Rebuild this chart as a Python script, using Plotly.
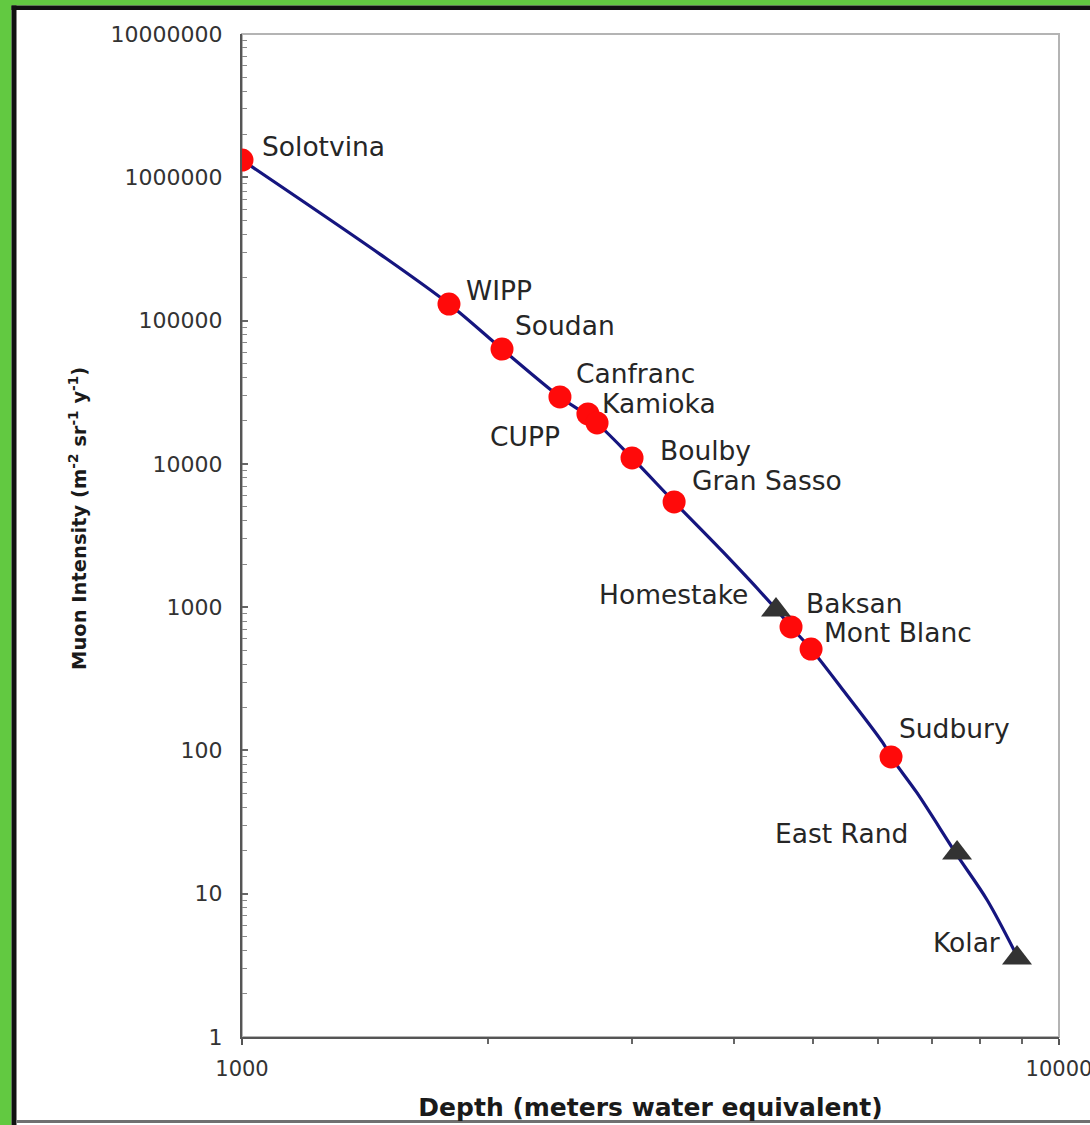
import numpy as np
import plotly.graph_objects as go

# ---- data -------------------------------------------------------------
# Underground laboratories: depth (m w.e.) and muon intensity (m^-2 sr^-1 y^-1)
lab_sites = ["Solotvina", "WIPP", "Soudan", "Canfranc", "Kamioka", "CUPP", "Boulby",
             "Gran Sasso", "Baksan", "Mont Blanc", "Sudbury"]
lab_depth = [1000, 1792, 2081, 2450, 2651, 2720, 3002, 3380, 4699, 4972, 6229]
lab_intensity = [1.32e6, 1.305e5, 6.33e4, 2.93e4, 2.23e4, 1.93e4, 1.10e4, 5420, 727, 510, 90]

# Deep mines
mine_sites = ["Homestake", "East Rand", "Kolar"]
mine_depth = [4504, 7503, 8884]
mine_intensity = [955, 19.2, 3.56]

# Depth-intensity relation
curve_depth = [1000, 1475, 1792, 2081, 2450, 2682, 3002, 3380, 3879, 4492, 4699,
               4972, 5440, 6088, 6229, 6703, 7503, 8166, 8833]
curve_intensity = [1.32e6, 2.91e5, 1.305e5, 6.33e4, 2.93e4, 2.06e4, 1.10e4, 5420,
                   2427, 986, 727, 510, 264, 112.7, 90, 50.5, 18.6, 9.04, 3.92]

y_tick_values = [1, 10, 100, 1000, 10000, 100000, 1000000, 10000000]
y_tick_text = ["1", "10", "100", "1000", "10000", "100000", "1000000", "10000000"]
x_tick_values = [1000, 10000]
x_tick_text = ["1000", "10000"]

# ---- label placement (pixel offsets from each marker) ---------------------
label_style = {
    "Solotvina": ("left", 18, 14),
    "WIPP": ("left", 15, 14),
    "Soudan": ("left", 11, 24),
    "Canfranc": ("left", 14, 23),
    "Kamioka": ("left", 12, 10),
    "CUPP": ("right", -35, -14),
    "Boulby": ("left", 26, 7),
    "Gran Sasso": ("left", 16, 21),
    "Baksan": ("left", 13, 23),
    "Mont Blanc": ("left", 11, 17),
    "Sudbury": ("left", 6, 28),
    "Homestake": ("right", -26, 16),
    "East Rand": ("right", -47, 20),
    "Kolar": ("right", -15, 15),
}

W, H = 1090, 1125
ML, MR, MT, MB = 242, 31, 34, 88
PW, PH = W - ML - MR, H - MT - MB

FONT = "DejaVu Sans"
TEXT = "#262626"


def px_x(p):
    return (p - ML) / PW


def px_y(p):
    return (H - MB - p) / PH


fig = go.Figure()

fig.add_trace(go.Scatter(
    x=curve_depth, y=curve_intensity, mode="lines",
    line=dict(color="#15157f", width=3.2, shape="spline", smoothing=0.9),
    hoverinfo="skip", showlegend=False))

fig.add_trace(go.Scatter(
    x=lab_depth, y=lab_intensity, mode="markers", text=lab_sites,
    marker=dict(symbol="circle", size=23, color="#ff0a0a", line=dict(width=0)),
    showlegend=False))

fig.add_trace(go.Scatter(
    x=mine_depth, y=mine_intensity, mode="markers", text=mine_sites,
    marker=dict(symbol="triangle-up", size=26, color="#333333", line=dict(width=0)),
    showlegend=False))

annotations = []
for names, xs, ys in ((lab_sites, lab_depth, lab_intensity),
                      (mine_sites, mine_depth, mine_intensity)):
    for name, xv, yv in zip(names, xs, ys):
        anchor, dx, dy = label_style[name]
        annotations.append(dict(
            x=np.log10(xv), y=np.log10(yv), xref="x", yref="y",
            text=name, showarrow=False, xanchor=anchor, yanchor="middle",
            xshift=dx, yshift=dy,
            font=dict(family=FONT, size=26.5, color=TEXT)))

# vertical axis title
annotations.append(dict(
    x=px_x(78), y=px_y(519), xref="paper", yref="paper",
    text="Muon Intensity (m<sup>-2</sup> sr<sup>-1</sup> y<sup>-1</sup>)",
    textangle=-90, showarrow=False, xanchor="center", yanchor="middle",
    font=dict(family=FONT, size=19.5, color="#1a1a1a", weight="bold")))

shapes = [
    # plot frame (top and right edges)
    dict(type="rect", xref="paper", yref="paper", x0=0, x1=1, y0=0, y1=1,
         line=dict(color="#b4b4b4", width=2), layer="below"),
    # page border
    dict(type="rect", xref="paper", yref="paper", x0=px_x(0), x1=px_x(W),
         y0=px_y(0), y1=px_y(5.5), fillcolor="#62c941", line=dict(width=0)),
    dict(type="rect", xref="paper", yref="paper", x0=px_x(0), x1=px_x(11.5),
         y0=px_y(0), y1=px_y(H), fillcolor="#62c941", line=dict(width=0)),
    dict(type="rect", xref="paper", yref="paper", x0=px_x(11.5), x1=px_x(W),
         y0=px_y(5.5), y1=px_y(10), fillcolor="#111111", line=dict(width=0)),
    dict(type="rect", xref="paper", yref="paper", x0=px_x(11.5), x1=px_x(16.5),
         y0=px_y(5.5), y1=px_y(H), fillcolor="#111111", line=dict(width=0)),
    dict(type="rect", xref="paper", yref="paper", x0=px_x(16.5), x1=px_x(W),
         y0=px_y(1120), y1=px_y(1123), fillcolor="#707070", line=dict(width=0)),
]

fig.update_layout(
    width=W, height=H,
    margin=dict(l=ML, r=MR, t=MT, b=MB, pad=0, autoexpand=False),
    paper_bgcolor="white", plot_bgcolor="white",
    font=dict(family=FONT, color=TEXT),
    annotations=annotations, shapes=shapes,
    xaxis=dict(
        type="log", range=[3, 4], automargin=False,
        tickvals=x_tick_values, ticktext=x_tick_text,
        ticks="outside", ticklen=6, tickwidth=2, tickcolor="#555555",
        minor=dict(ticks="outside", ticklen=5, tickwidth=1.5, tickcolor="#666666",
                   dtick="D1", showgrid=False),
        showline=True, linecolor="#555555", linewidth=2,
        showgrid=False, zeroline=False,
        tickfont=dict(family=FONT, size=21, color="#333333"),
        ticklabelstandoff=6, ticklabeloverflow="allow",
        title=dict(text="Depth (meters water equivalent)", standoff=18,
                   font=dict(family=FONT, size=25, color="#1a1a1a", weight="bold")),
    ),
    yaxis=dict(
        type="log", range=[0, 7], automargin=False,
        tickvals=y_tick_values, ticktext=y_tick_text,
        ticks="inside", ticklen=6, tickwidth=1.5, tickcolor="#666666",
        minor=dict(ticks="inside", ticklen=5, tickwidth=1.2, tickcolor="#888888",
                   dtick="D1", showgrid=False),
        showline=True, linecolor="#555555", linewidth=2,
        showgrid=False, zeroline=False,
        tickfont=dict(family=FONT, size=22, color="#333333"),
        ticklabelstandoff=13,
    ),
)

fig.write_html("out.html")
